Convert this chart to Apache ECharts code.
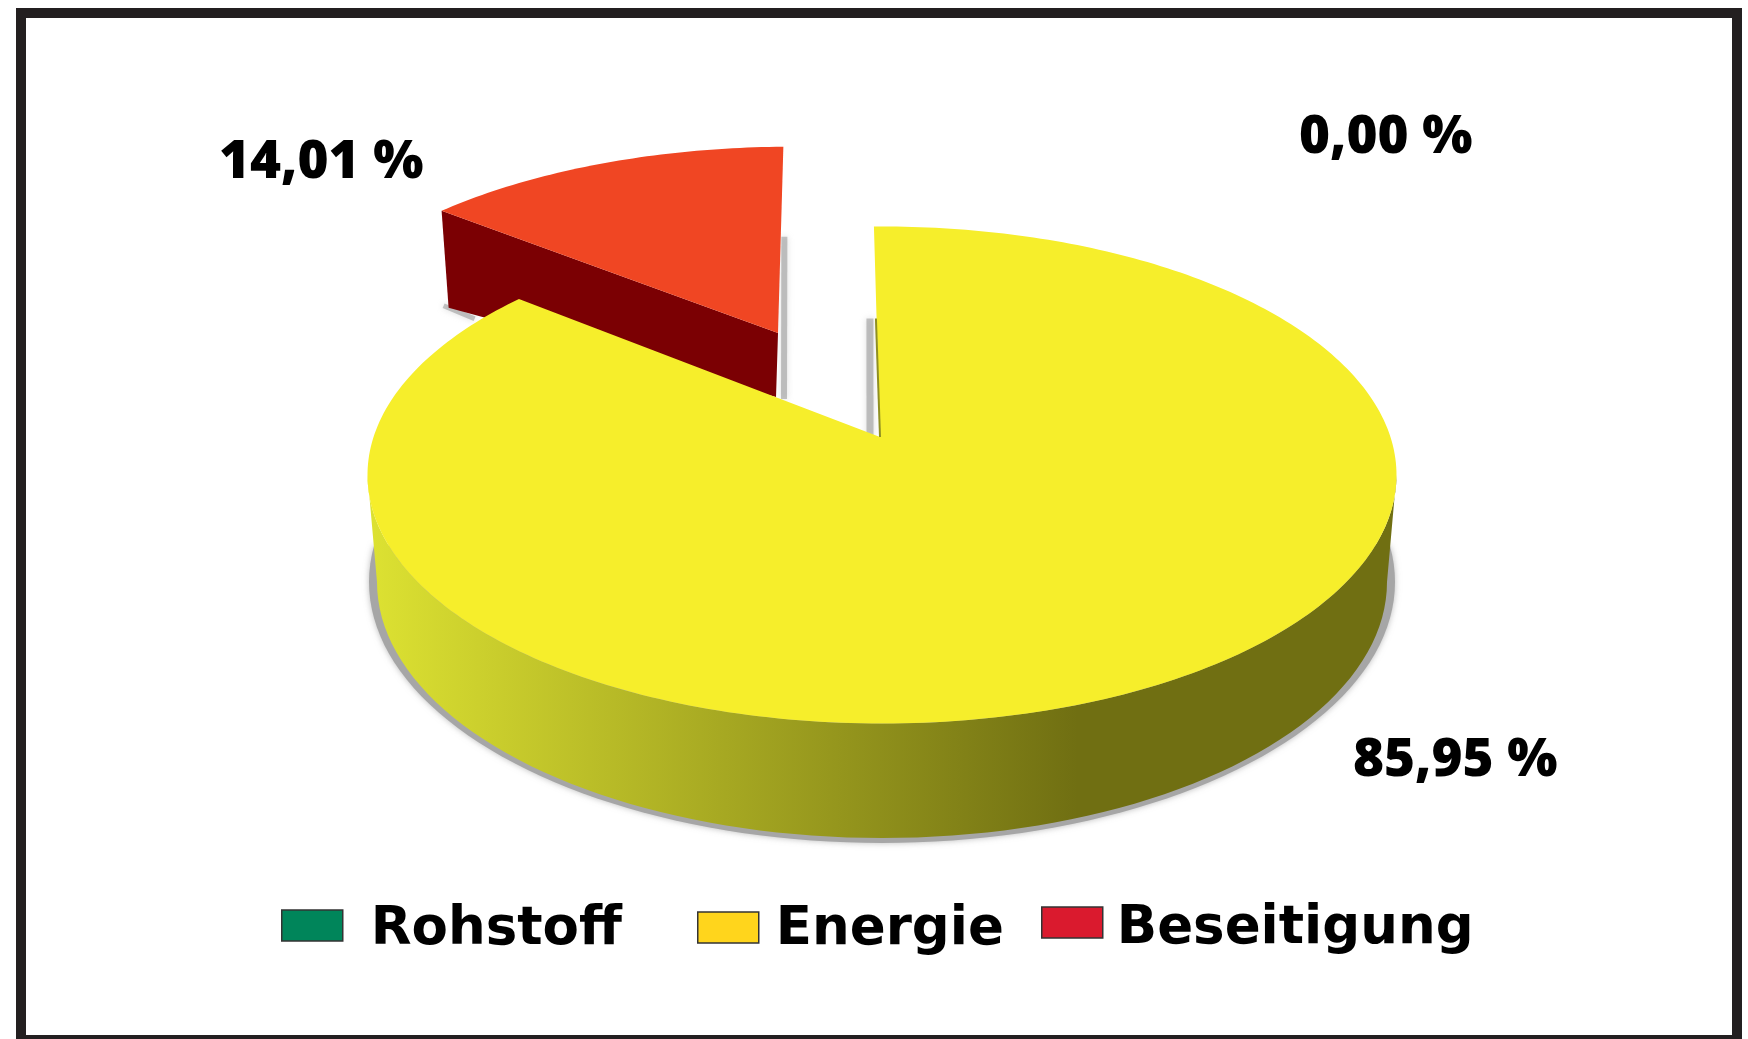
<!DOCTYPE html>
<html>
<head>
<meta charset="utf-8">
<title>Pie</title>
<style>
    html, body { margin: 0; padding: 0; background: #fff; }
    #chart { width: 1748px; height: 1039px; }
</style>
<script src="https://cdn.jsdelivr.net/npm/echarts@6/dist/echarts.min.js"></script>
</head>
<body>
<div id="chart"></div>
<script>
const categories = ['Rohstoff', 'Energie', 'Beseitigung'];
const shares = [0, 85.95, 14.01];

// where things sit on the page
const labelFont = '"Open Sans", sans-serif';
const legendFont = '"DejaVu Sans", sans-serif';
const labelSpots = [[1299, 138], [1353, 761], [219, 163]];
const legendSpots = [[281, 904], [697, 904], [1041, 903]];
const legendTextPads = [[10, 0, 0, 23], [6, 0, 0, 12], [14, 0, 0, 9]];
const swatchColors = ['#00855a', '#ffd51c', '#da1a2e'];

// the tilted disc: ellipse, and the point the slices meet at (perspective moves it up)
const disc = { cx: 882, cy: 475, rx: 514.5, ry: 248.5, tilt: 0.153, turn: -0.9 };
const base = { cx: 882, cy: 582, rx: 505, ry: 256 };
const apex = [880, 437];
// the pulled out slice
const pulled = { apex: [778, 333], sx: 0.952, sy: 0.885, shear: -0.053 };

function slicePoint(deg) {
    // clockwise from 12 o'clock, pushed through the perspective of the disc
    const k = Math.sqrt((1 - disc.tilt) / (1 + disc.tilt));
    const half = deg * Math.PI / 360;
    const turns = Math.round(deg / 360);
    const t = 2 * Math.atan(k * Math.tan(half)) + turns * 2 * Math.PI + disc.turn * Math.PI / 180;
    return [disc.cx + disc.rx * Math.sin(t), disc.cy - disc.ry * Math.cos(t)];
}

function arc(from, to) {
    const pts = [];
    const n = Math.max(2, Math.ceil(Math.abs(to - from)));
    for (let i = 0; i <= n; i++) {
        pts.push(slicePoint(from + (to - from) * i / n));
    }
    return pts;
}

function wallShape() {
    const pts = [];
    for (let a = 0; a <= 180; a += 2) {
        const t = a * Math.PI / 180;
        pts.push([disc.cx + disc.rx * Math.cos(t), disc.cy + disc.ry * Math.sin(t)]);
    }
    for (let a = 180; a >= 0; a -= 2) {
        const t = a * Math.PI / 180;
        pts.push([base.cx + base.rx * Math.cos(t), base.cy + base.ry * Math.sin(t)]);
    }
    return pts;
}

function wallShadow(grow, drop) {
    const pts = [];
    for (let a = -8; a <= 188; a += 2) {
        const t = a * Math.PI / 180;
        pts.push([base.cx + (base.rx + grow * Math.abs(Math.cos(t))) * Math.cos(t), base.cy + (base.ry + drop) * Math.sin(t)]);
    }
    return pts;
}

function poly(points, style, z2) {
    return { type: 'polygon', shape: { points: points }, style: style, z2: z2 || 0, silent: true };
}

function softLine(x1, y1, x2, y2, width) {
    return {
        type: 'line',
        shape: { x1: x1, y1: y1, x2: x2, y2: y2 },
        style: { stroke: 'rgba(150,150,150,0.55)', lineWidth: width, shadowBlur: 6, shadowColor: 'rgba(170,170,170,0.7)' },
        silent: true
    };
}

function percentText(i, value) {
    return {
        type: 'text',
        x: labelSpots[i][0],
        y: labelSpots[i][1],
        z2: 20,
        style: {
            text: value.toFixed(2).replace('.', ',') + ' %',
            font: '800 53px ' + labelFont,
            fill: '#000',
            textVerticalAlign: 'middle'
        }
    };
}

function drawSlice(index) {
    return function (params, api) {
        const value = api.value(0);
        const total = shares.reduce((a, b) => a + b, 0);
        const before = shares.slice(0, index).reduce((a, b) => a + b, 0);
        const from = before / total * 360;
        const to = (before + value) / total * 360;
        const children = [];

        if (index === 1) {
            // side wall first, the top face goes over it
            children.push(poly(wallShadow(8, 5), { fill: '#a6a6a6', shadowBlur: 6, shadowColor: 'rgba(160,160,160,0.7)' }));
            children.push(poly(wallShape(), {
                fill: new echarts.graphic.LinearGradient(0, 0, 1, 0, [
                    { offset: 0, color: '#dde232' },
                    { offset: 0.69, color: '#706f12' },
                    { offset: 1, color: '#706f12' }
                ])
            }));
            const rim = slicePoint(from);
            children.push(softLine(rim[0] - 4, rim[1] + 92, apex[0] - 10, apex[1], 7));
            children.push(poly([apex].concat(arc(from, to)), { fill: '#f6ee2b' }, 5));
            children.push({
                type: 'line',
                shape: { x1: rim[0] + 2, y1: rim[1] + 92, x2: apex[0], y2: apex[1] },
                style: { stroke: '#8f8f22', lineWidth: 2 },
                z2: 6,
                silent: true
            });
        }

        if (index === 2) {
            const edge = arc(from, to).map(p => [
                pulled.apex[0] + (p[0] - apex[0]) * pulled.sx + (p[1] - apex[1]) * pulled.shear,
                pulled.apex[1] + (p[1] - apex[1]) * pulled.sy
            ]);
            const left = edge[0];
            const right = edge[edge.length - 1];
            // soft shadow right of the slice and under its left end
            children.push(softLine(right[0] + 1, right[1] + 90, pulled.apex[0] + 6, pulled.apex[1] + 66, 6));
            children.push(softLine(left[0] + 2, left[1] + 95, left[0] + 33, left[1] + 108, 5));
            children.push(poly([
                left,
                pulled.apex,
                [pulled.apex[0] - 2, pulled.apex[1] + 64],
                [left[0] + 7, left[1] + 97]
            ], { fill: '#7b0003' }, 1));
            children.push(poly([pulled.apex].concat(edge), { fill: '#f04623' }, 2));
        }

        children.push(percentText(index, value));
        return { type: 'group', children: children };
    };
}

const chart = echarts.init(document.getElementById('chart'), null, { renderer: 'canvas' });

const option = {
    animation: false,
    backgroundColor: '#fff',
    graphic: [{
        type: 'rect',
        shape: { x: 21, y: 13, width: 1716, height: 1027 },
        style: { fill: 'none', stroke: '#231f20', lineWidth: 10 },
        silent: true
    }],
    legend: categories.map((name, i) => ({
        left: legendSpots[i][0],
        top: legendSpots[i][1],
        padding: 0,
        icon: 'rect',
        itemWidth: 61,
        itemHeight: 31,
        itemGap: 0,
        selectedMode: false,
        formatter: '{t|{name}}',
        textStyle: {
            rich: {
                t: { fontFamily: legendFont, fontWeight: 700, fontSize: 53, color: '#000', padding: legendTextPads[i] }
            }
        },
        itemStyle: { color: swatchColors[i], borderColor: '#333', borderWidth: 1.5 },
        data: [name]
    })),
    series: categories.map((name, i) => ({
        type: 'custom',
        name: name,
        coordinateSystem: 'none',
        z: i === 1 ? 3 : 2,
        silent: true,
        itemStyle: { color: swatchColors[i] },
        renderItem: drawSlice(i),
        data: [shares[i]]
    }))
};

chart.setOption(option);
</script>
</body>
</html>
